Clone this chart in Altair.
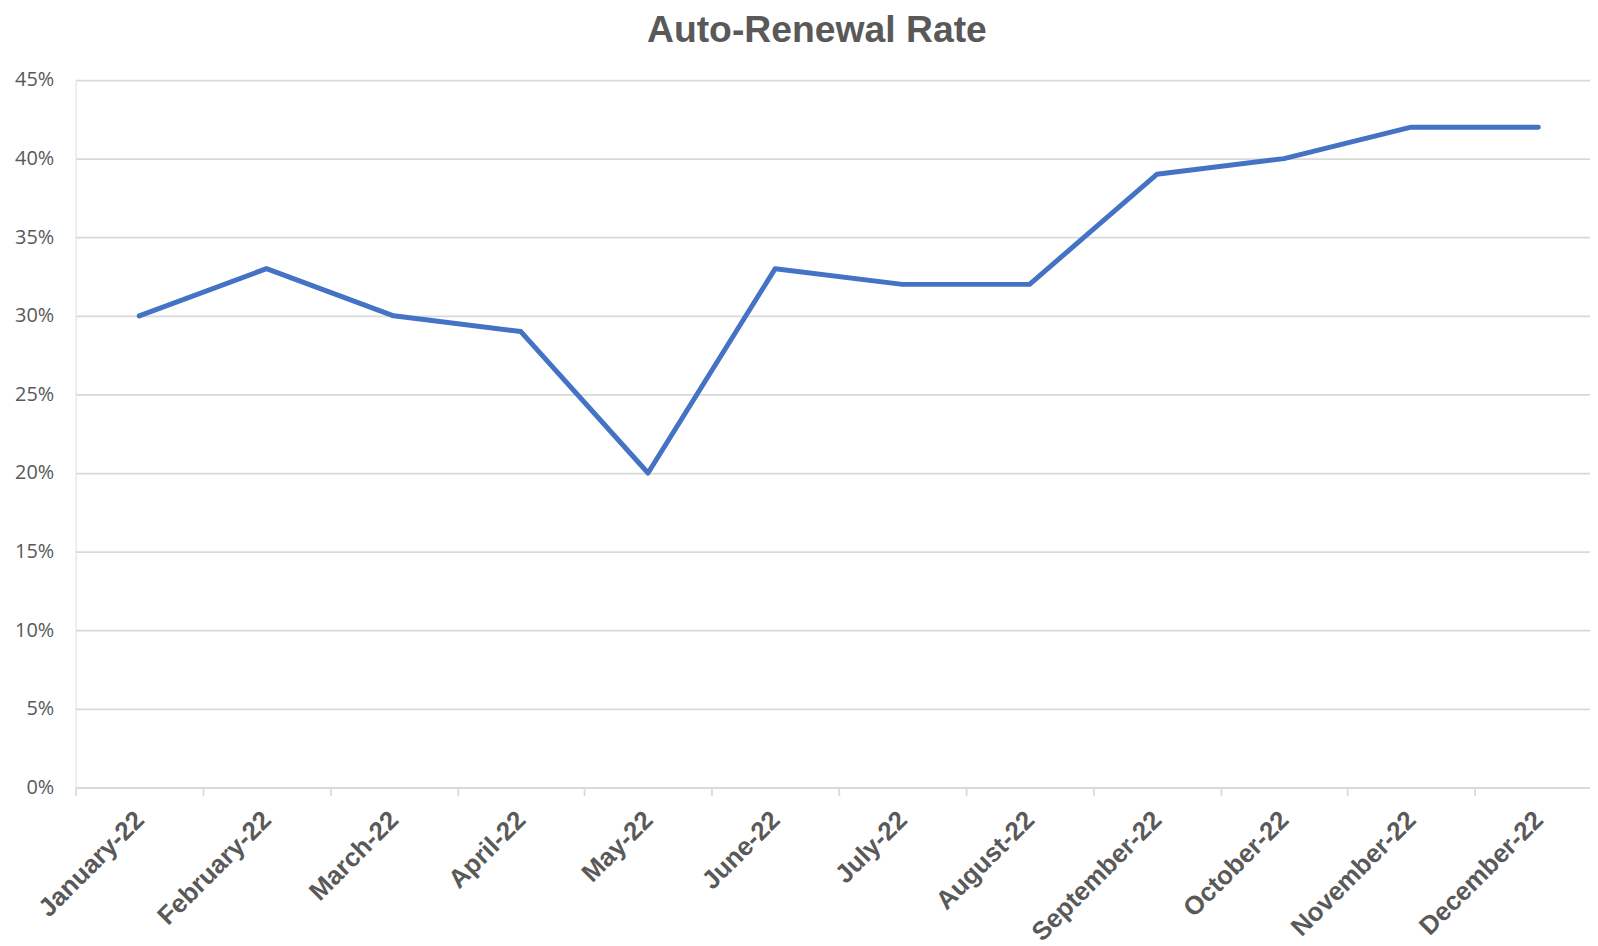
import altair as alt
import pandas as pd

months = ["January-22", "February-22", "March-22", "April-22", "May-22", "June-22",
          "July-22", "August-22", "September-22", "October-22", "November-22", "December-22"]
rates = [0.30, 0.33, 0.30, 0.29, 0.20, 0.33, 0.32, 0.32, 0.39, 0.40, 0.42, 0.42]
y_ticks = [0, 0.05, 0.10, 0.15, 0.20, 0.25, 0.30, 0.35, 0.40, 0.45]

df = pd.DataFrame({"Month": months, "Rate": rates})

chart = alt.Chart(df).mark_line(color="#4472C4", strokeWidth=5, strokeCap="round", strokeJoin="round").encode(
    x=alt.X("Month:N", sort=months, title=None,
            scale=alt.Scale(type="band", paddingInner=0, paddingOuter=0),
            axis=alt.Axis(labelAngle=-45, labelFont="Liberation Sans", labelFontWeight="bold",
                          labelFontSize=26, labelColor="#595959", labelPadding=11, labelOffset=-9,
                          domainColor="#d9d9d9", domainWidth=1.75, tickColor="#d9d9d9",
                          tickWidth=1.75, tickSize=8, tickBand="extent", grid=False,
                          labelOverlap=False, labelBound=False, labelFlush=False)),
    y=alt.Y("Rate:Q", title=None,
            scale=alt.Scale(domain=[0, 0.45], nice=False, zero=True),
            axis=alt.Axis(values=y_ticks, format=".0%", labelFont="Open Sans", labelFontSize=20,
                          labelColor="#595959", labelPadding=22, tickSize=0, domain=False,
                          gridColor="#d9d9d9", gridWidth=1.75)),
).properties(
    width=1534, height=711,
    title=alt.TitleParams("Auto-Renewal Rate", font="Liberation Sans", fontSize=37.5,
                          fontWeight="bold", color="#595959", anchor="middle", offset=21, dx=-22),
    autosize=alt.AutoSizeParams(type="none"),
    padding={"left": 68, "top": 70, "right": -12, "bottom": 160},
).configure_view(stroke=None).configure(background="white")

chart.save("out.html", embed_options={"renderer": "svg", "actions": False})
